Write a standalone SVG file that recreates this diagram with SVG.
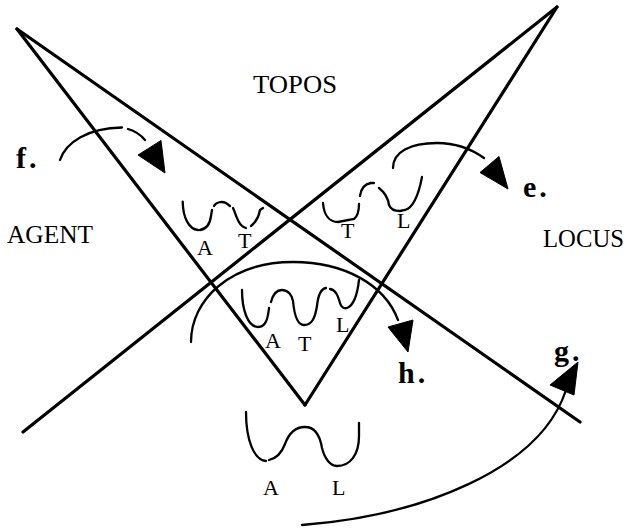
<svg xmlns="http://www.w3.org/2000/svg" width="629" height="529" viewBox="0 0 629 529">
<style>
.ln{stroke:#000;stroke-width:3.2;fill:none;stroke-linecap:round}
.cv{stroke:#000;stroke-width:2.3;fill:none;stroke-linecap:round}
.ah{fill:#000;stroke:#000;stroke-width:1;stroke-linejoin:miter}
.big{font-family:"Liberation Serif","Times New Roman",serif;font-size:26px;fill:#000}
.sm{font-family:"Liberation Serif","Times New Roman",serif;font-size:22px;fill:#000}
.bd{font-family:"Liberation Serif","Times New Roman",serif;font-size:30px;font-weight:bold;fill:#000;letter-spacing:3px}
</style>
<rect width="629" height="529" fill="#fff"/>
<g id="lines">
<line class="ln" x1="17" y1="29" x2="305" y2="405"/>
<line class="ln" x1="17" y1="29" x2="580" y2="422"/>
<line class="ln" x1="557" y1="7" x2="23" y2="432"/>
<line class="ln" x1="557" y1="7" x2="305" y2="405"/>
</g>
<g id="labels">
<text class="big" x="253" y="93" textLength="84" lengthAdjust="spacingAndGlyphs">TOPOS</text>
<text class="big" x="7" y="243" textLength="86" lengthAdjust="spacingAndGlyphs">AGENT</text>
<text class="big" x="543" y="247" textLength="81" lengthAdjust="spacingAndGlyphs">LOCUS</text>
</g>
<g id="fig-AT">
<path class="cv" d="M182.7,201.7 C183,218 189,229 198,230"/>
<path class="cv" d="M200,230 C206,229 210,224 211,216 L212,210"/>
<path class="cv" d="M214,206 C216,202 222,201 226,203 L230,206"/>
<path class="cv" d="M233,208 C236,214 238,226 246,228"/>
<path class="cv" d="M251,226 C256,222 259,216 260,210 L263,208"/>
<text class="sm" x="197" y="255">A</text>
<text class="sm" x="238" y="248">T</text>
</g>
<g id="fig-TL">
<path class="cv" d="M323,203 C324,216 330,222 338,222 L354,219 C358,216 359,210 359,204"/>
<path class="cv" d="M360,196 C361,188 365,184 371,183 L374,183"/>
<path class="cv" d="M379,188 C384,192 388,197 389,205 C391,210 395,211 400,211 L405,210 C412,208 418,198 422,177"/>
<text class="sm" x="341" y="238">T</text>
<text class="sm" x="397" y="228">L</text>
</g>
<g id="fig-ATL">
<path class="cv" d="M242,290 C242,310 248,327 258,327 C266,327 268,318 269,308"/>
<path class="cv" d="M271,302 C273,294 277,290 282,290 C288,290 292,295 293,301 C294,312 297,325 304,325 C312,325 315,318 317,306 C318,296 320,289 326,288"/>
<path class="cv" d="M330,289 C336,290 338,296 340,303 C341,307 344,309 347,308 C352,306 357,298 359,280"/>
<text class="sm" x="265" y="348">A</text>
<text class="sm" x="298" y="351">T</text>
<text class="sm" x="336" y="332">L</text>
</g>
<g id="fig-AL">
<path class="cv" d="M246,412 C246,440 254,460 266,461"/>
<path class="cv" d="M269,460 C278,458 282,452 285,444 C289,433 296,427 305,427 C315,427 320,436 322,448 C325,460 331,466 337,466 C350,466 359,455 359,436 L359,423"/>
<text class="sm" x="263" y="495">A</text>
<text class="sm" x="332" y="495">L</text>
</g>
<g id="connectors">
<path class="cv" d="M60,160 C66,142 88,128 122,127.5"/>
<path class="cv" d="M128,129 C135,131 140,134 145,140"/>
<polygon class="ah" points="138,155 161,140.5 165,173"/>
<path class="cv" d="M393,168 C393,152 410,143 437,143 C455,143 470,148 484,158"/>
<polygon class="ah" points="480,172.5 499,156.5 508,189"/>
<path class="cv" d="M191,342 C191,300 230,262 293,262 C345,262 385,285 398,320"/>
<polygon class="ah" points="388,327 413,320 408,352"/>
<path class="cv" d="M302,525 C420,516 540,470 566,390"/>
<polygon class="ah" points="550,385 574,395 578,362"/>
</g>
<g id="tags">
<text class="bd" x="16" y="168">f.</text>
<text class="bd" x="523" y="197">e.</text>
<text class="bd" x="398" y="383">h.</text>
<text class="bd" x="554" y="361">g.</text>
</g>
</svg>
